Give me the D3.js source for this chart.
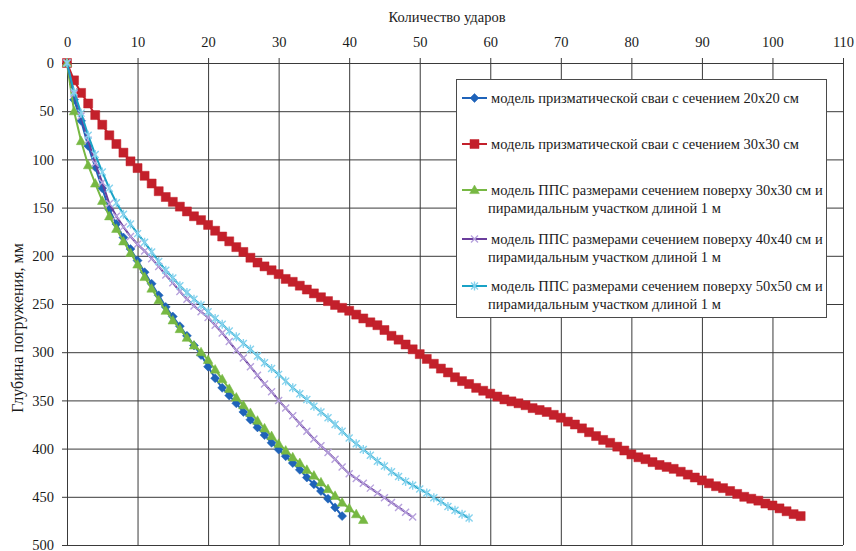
<!DOCTYPE html>
<html>
<head>
<meta charset="utf-8">
<title>Количество ударов</title>
<script src="https://d3js.org/d3.v7.min.js"></script>
<style>
    body { margin: 0; background: #fff; }
    svg text { font-family: "Liberation Serif", "Times New Roman", "DejaVu Serif", serif !important; fill: #1b1b1b; }
    .axis path { display: none; }
    .axis line { stroke: #3a3a3a; stroke-width: 1; }
    .axis text { font-size: 14.5px; }
    .legend text { font-size: 14.5px; }
</style>
</head>
<body>
<svg width="856" height="551" font-family="Liberation Serif, serif"></svg>
<script>
    // tick labels
    var xTicks = [0, 10, 20, 30, 40, 50, 60, 70, 80, 90, 100, 110];
    var yTicks = [0, 50, 100, 150, 200, 250, 300, 350, 400, 450, 500];

    // depth (mm) after each blow, index = number of blows
    var pile20 = [0, 38, 60, 86, 108, 130, 152, 167, 181, 193, 205, 217, 229, 241, 253, 263, 273, 283, 293, 303,
        315, 327, 337, 345, 353, 362, 370, 378, 386, 394, 401, 408, 415, 422, 430, 437, 444, 452, 461, 470];

    var pile30 = [0, 18, 31, 42, 54, 64, 75, 84, 93, 102, 109, 117, 125, 133, 139, 144, 149, 154, 159, 163,
        168, 174, 180, 185, 191, 196, 202, 207, 211, 215, 219, 224, 227, 231, 235, 239, 243, 247, 251, 254,
        257, 261, 265, 269, 272, 277, 283, 287, 292, 297, 302, 307, 312, 317, 321, 326, 330, 333, 337, 340,
        343, 346, 349, 351, 353, 355, 358, 360, 362, 365, 368, 372, 375, 379, 383, 387, 391, 394, 398, 402,
        406, 409, 411, 414, 417, 419, 421, 424, 427, 430, 433, 436, 439, 441, 444, 447, 450, 452, 454, 457,
        459, 462, 465, 468, 470];

    var pps30 = [0, 50, 81, 106, 125, 143, 159, 172, 185, 197, 209, 222, 234, 246, 257, 267, 276, 285, 293, 300,
        308, 318, 328, 338, 347, 355, 363, 371, 379, 387, 395, 402, 409, 415, 422, 428, 435, 442, 449, 456,
        462, 468, 474];

    var pps40 = [0, 32, 55, 80, 104, 124, 146, 159, 170, 180, 188, 195, 203, 211, 220, 228, 237, 245, 252, 258,
        264, 272, 280, 289, 298, 306, 315, 324, 333, 341, 350, 358, 366, 374, 382, 390, 397, 404, 411, 419,
        426, 431, 436, 441, 446, 451, 456, 461, 466, 471];

    var pps50 = [0, 30, 52, 75, 95, 113, 130, 145, 157, 167, 177, 186, 196, 206, 215, 223, 231, 238, 245, 251,
        258, 265, 271, 278, 284, 291, 297, 304, 311, 317, 323, 330, 337, 343, 349, 356, 362, 368, 375, 382,
        389, 395, 401, 407, 413, 418, 424, 429, 434, 438, 442, 446, 451, 455, 460, 464, 468, 472];

    var seriesNames = [
        ["модель призматической сваи с сечением  20х20 см"],
        ["модель призматической сваи с сечением  30х30 см"],
        ["модель ППС размерами сечением поверху 30х30 см и", "пирамидальным участком длиной 1 м"],
        ["модель ППС размерами сечением поверху 40х40 см и", "пирамидальным участком длиной 1 м"],
        ["модель ППС размерами сечением поверху 50х50 см и", "пирамидальным участком длиной 1 м"]
    ];

    var series = [
        {values: pile20, line: "#1f63b9", marker: "#1f63b9", shape: "diamond"},
        {values: pile30, line: "#c3202b", marker: "#c3202b", shape: "square"},
        {values: pps30, line: "#77b843", marker: "#77b843", shape: "triangle"},
        {values: pps40, line: "#6a3d9c", marker: "#b7a2dd", shape: "x"},
        {values: pps50, line: "#19a2c6", marker: "#86d3ee", shape: "star"}
    ];

    var svg = d3.select("svg"),
        margin = {top: 63, right: 13, bottom: 6, left: 67},
        width = +svg.attr("width") - margin.left - margin.right,
        height = +svg.attr("height") - margin.top - margin.bottom;

    var x = d3.scaleLinear().domain([0, 110]).range([0, width]);
    var y = d3.scaleLinear().domain([0, 500]).range([0, height]);

    var g = svg.append("g").attr("transform", "translate(" + margin.left + "," + margin.top + ")");

    // grid + axes
    var xAxis = g.append("g")
        .attr("class", "axis")
        .call(d3.axisTop(x).tickValues(xTicks).tickSize(-height).tickPadding(16));
    xAxis.attr("font-family", null).attr("font-size", null);
    xAxis.selectAll("line").attr("y1", -5);

    var yAxis = g.append("g")
        .attr("class", "axis")
        .call(d3.axisLeft(y).tickValues(yTicks).tickSize(-width).tickPadding(13));
    yAxis.attr("font-family", null).attr("font-size", null);
    yAxis.selectAll("line").attr("x1", -5);

    svg.append("text")
        .attr("x", margin.left + x(55) - 8)
        .attr("y", 22)
        .attr("text-anchor", "middle")
        .style("font-size", "14.5px")
        .text("Количество  ударов");

    svg.append("text")
        .attr("transform", "translate(23," + 328 + ") rotate(-90)")
        .attr("text-anchor", "middle")
        .style("font-size", "16px")
        .text("Глубина погружения, мм");

    // marker shapes
    function markerPath(shape) {
        if (shape === "diamond") return "M0,-4.5L4.5,0L0,4.5L-4.5,0Z";
        if (shape === "square") return "M-4.5,-4.5H4.5V4.5H-4.5Z";
        if (shape === "triangle") return "M0,-5L4.8,3.6H-4.8Z";
        if (shape === "x") return "M-3.5,-3.5L3.5,3.5M-3.5,3.5L3.5,-3.5";
        return "M-3.5,-3.5L3.5,3.5M-3.5,3.5L3.5,-3.5M0,-4.5V4.5";
    }

    function drawMarker(sel, s) {
        var open = s.shape === "x" || s.shape === "star";
        sel.append("path")
            .attr("d", markerPath(s.shape))
            .attr("fill", open ? "none" : s.marker)
            .attr("stroke", s.marker)
            .attr("stroke-width", open ? 1.4 : 0.5);
    }

    var line = d3.line()
        .x(function(d, i) { return x(i); })
        .y(function(d) { return y(d); });

    series.forEach(function(s) {
        var sg = g.append("g");
        sg.append("path")
            .datum(s.values)
            .attr("fill", "none")
            .attr("stroke", s.line)
            .attr("stroke-width", 2)
            .attr("d", line);
        sg.selectAll("g.pt")
            .data(s.values)
            .enter().append("g")
            .attr("class", "pt")
            .attr("transform", function(d, i) { return "translate(" + x(i) + "," + y(d) + ")"; })
            .each(function() { drawMarker(d3.select(this), s); });
    });

    // legend
    var legend = svg.append("g")
        .attr("class", "legend")
        .attr("transform", "translate(456,79)");

    legend.append("rect")
        .attr("x", 0.5).attr("y", 0.5)
        .attr("width", 370).attr("height", 238)
        .attr("fill", "#fff")
        .attr("stroke", "#4a4a4a");

    var rowY = [19, 65, 111, 160, 207];

    var items = legend.selectAll("g.item")
        .data(series)
        .enter().append("g")
        .attr("class", "item")
        .attr("transform", function(d, i) { return "translate(0," + rowY[i] + ")"; });

    items.append("line")
        .attr("x1", 6).attr("x2", 31)
        .attr("stroke", function(d) { return d.line; })
        .attr("stroke-width", 2);

    items.append("g")
        .attr("transform", "translate(18.5,0)")
        .each(function(d) { drawMarker(d3.select(this), d); });

    items.each(function(d, i) {
        var t = d3.select(this);
        seriesNames[i].forEach(function(txt, k) {
            t.append("text")
                .attr("x", k === 0 ? 35 : 32)
                .attr("y", k * 18)
                .attr("dy", "0.35em")
                .text(txt);
        });
    });
</script>
</body>
</html>
